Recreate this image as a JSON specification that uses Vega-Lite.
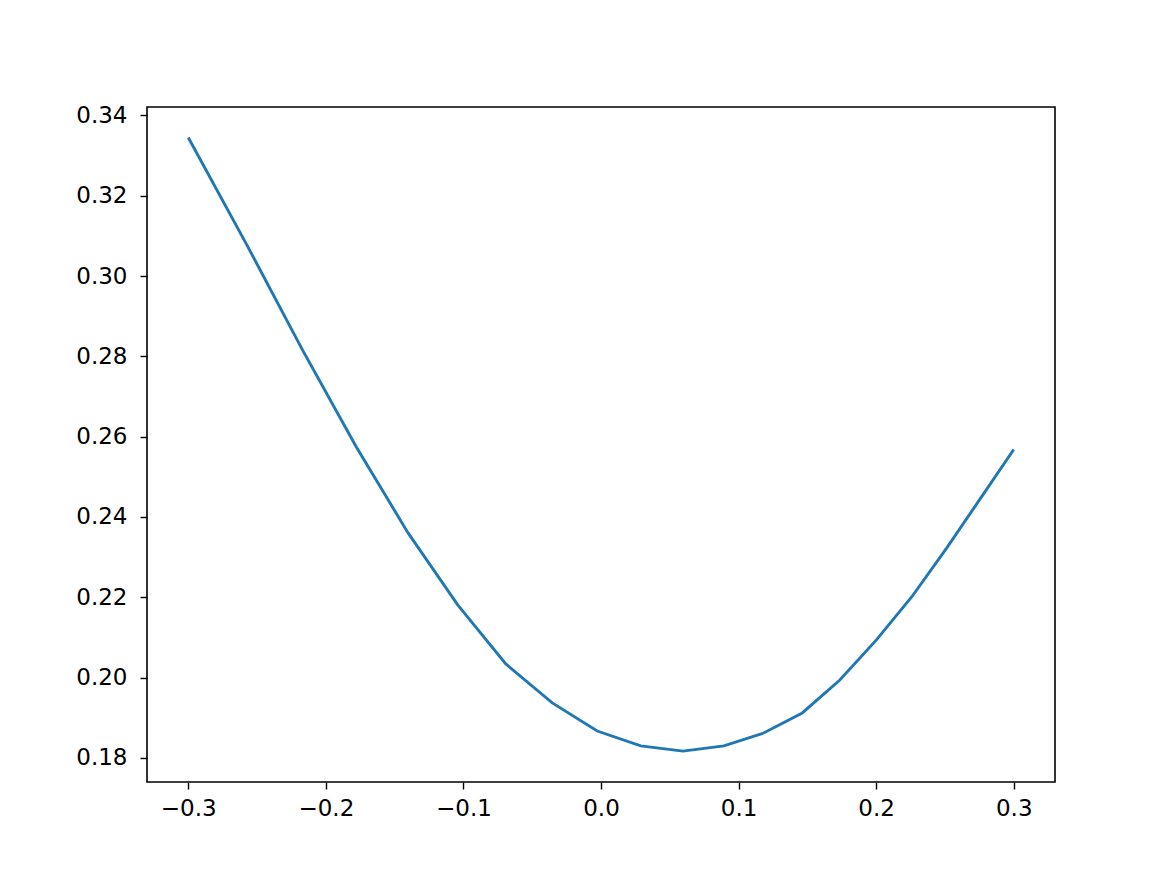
{
  "$schema": "https://vega.github.io/schema/vega-lite/v6.json",
  "width": 908,
  "height": 675,
  "autosize": {"type": "none"},
  "padding": {"left": 147, "top": 107, "right": 117, "bottom": 97},
  "background": "white",
  "config": {
    "view": {"stroke": "black", "strokeWidth": 1.6},
    "axis": {
      "grid": false,
      "domain": false,
      "tickColor": "black",
      "tickSize": 7,
      "tickWidth": 1.4,
      "labelFont": "DejaVu Sans",
      "labelFontSize": 23,
      "labelColor": "black",
      "labelPadding": 8,
      "labelOverlap": false,
      "labelFlush": false,
      "title": null
    }
  },
  "data": {
    "values": [
      {"x": -0.3, "y": 0.3345},
      {"x": -0.25764, "y": 0.3079},
      {"x": -0.217, "y": 0.2816},
      {"x": -0.17795, "y": 0.2575},
      {"x": -0.14037, "y": 0.2361},
      {"x": -0.10415, "y": 0.2181},
      {"x": -0.06919, "y": 0.2034},
      {"x": -0.03542, "y": 0.1937},
      {"x": -0.00275, "y": 0.1867},
      {"x": 0.02889, "y": 0.183},
      {"x": 0.05956, "y": 0.1817},
      {"x": 0.08931, "y": 0.183},
      {"x": 0.11821, "y": 0.1862},
      {"x": 0.14629, "y": 0.1912},
      {"x": 0.1736, "y": 0.1994},
      {"x": 0.20019, "y": 0.2094},
      {"x": 0.2261, "y": 0.2202},
      {"x": 0.25134, "y": 0.2323},
      {"x": 0.27597, "y": 0.2447},
      {"x": 0.3, "y": 0.2568}
    ]
  },
  "mark": {"type": "line", "color": "#1f77b4", "strokeWidth": 2.9, "clip": true},
  "encoding": {
    "x": {
      "field": "x",
      "type": "quantitative",
      "scale": {"domain": [-0.33, 0.33], "nice": false, "zero": false},
      "axis": {"values": [-0.3, -0.2, -0.1, 0, 0.1, 0.2, 0.3], "format": ".1f", "title": null}
    },
    "y": {
      "field": "y",
      "type": "quantitative",
      "scale": {"domain": [0.174, 0.3421], "nice": false, "zero": false},
      "axis": {"values": [0.18, 0.2, 0.22, 0.24, 0.26, 0.28, 0.3, 0.32, 0.34], "format": ".2f", "title": null, "labelPadding": 13}
    }
  }
}
